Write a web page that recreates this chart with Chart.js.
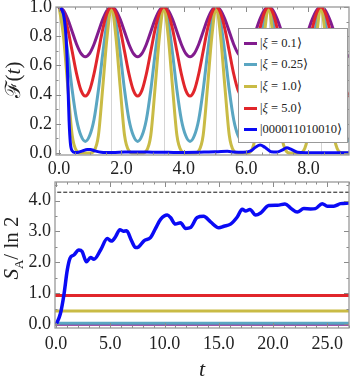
<!DOCTYPE html>
<html>
<head>
<meta charset="utf-8">
<script src="https://cdn.jsdelivr.net/npm/chart.js@4.4.1/dist/chart.umd.min.js"></script>
<style>
  body { margin: 0; background: #fff; width: 353px; height: 377px; position: relative; overflow: hidden; font-family: 'Liberation Serif', serif; color: #222; }
  canvas { position: absolute; left: 0; }
  #top { top: 0; }
  #bot { top: 180px; }
  .ytitle { position: absolute; transform: translate(-50%, -50%) rotate(-90deg); white-space: nowrap; font-size: 21px; }
  .xtitle { position: absolute; transform: translate(-50%, -50%); font-size: 22px; font-style: italic; }
  #legend { position: absolute; left: 238px; top: 28px; width: 110px; height: 115px; border: 1px solid #999; background: #fff; box-sizing: border-box; }
  .row { position: absolute; left: 0; height: 20px; display: flex; align-items: center; font-size: 12.5px; white-space: nowrap; }
  .sw { display: inline-block; width: 13px; height: 3px; margin-left: 5px; margin-right: 3px; }
</style>
</head>
<body>
<canvas id="top" width="353" height="180"></canvas>
<canvas id="bot" width="353" height="197"></canvas>
<div class="ytitle" style="left:12px;top:80px">ℱ(<i>t</i>)</div>
<div class="ytitle" style="left:13px;top:248px"><i>S</i><sub style="font-size:13px">A</sub>/ ln 2</div>
<div class="xtitle" style="left:202px;top:369px">t</div>
<div id="legend"></div>
<script>
// top panel: fidelity, sampled every 0.14
const tTop = [0, 0.14, 0.28, 0.42, 0.56, 0.7, 0.84, 0.98, 1.12, 1.26, 1.4, 1.54,
  1.68, 1.82, 1.96, 2.1, 2.24, 2.38, 2.52, 2.66, 2.8, 2.94, 3.08, 3.22,
  3.36, 3.5, 3.64, 3.78, 3.92, 4.06, 4.2, 4.34, 4.48, 4.62, 4.76, 4.9,
  5.04, 5.18, 5.32, 5.46, 5.6, 5.74, 5.88, 6.02, 6.16, 6.3, 6.44, 6.58,
  6.72, 6.86, 7.0, 7.14, 7.28, 7.42, 7.56, 7.7, 7.84, 7.98, 8.12, 8.26,
  8.4, 8.54, 8.68, 8.82, 8.96, 9.1, 9.24, 9.38];

const fidXi01 = [1, 0.977, 0.915, 0.83, 0.745, 0.683, 0.66, 0.683, 0.745, 0.83, 0.915, 0.977,
  1, 0.977, 0.915, 0.83, 0.745, 0.683, 0.66, 0.683, 0.745, 0.83, 0.915, 0.977,
  1, 0.977, 0.915, 0.83, 0.745, 0.683, 0.66, 0.683, 0.745, 0.83, 0.915, 0.977,
  1, 0.977, 0.915, 0.83, 0.745, 0.683, 0.66, 0.683, 0.745, 0.83, 0.915, 0.977,
  1, 0.977, 0.915, 0.83, 0.745, 0.683, 0.66, 0.683, 0.745, 0.83, 0.915, 0.977,
  1, 0.977, 0.915, 0.83, 0.745, 0.683, 0.66, 0.683];

const fidXi025 = [1, 0.9, 0.68, 0.43, 0.23, 0.12, 0.08, 0.12, 0.23, 0.43, 0.68, 0.9,
  1, 0.9, 0.68, 0.43, 0.23, 0.12, 0.08, 0.12, 0.23, 0.43, 0.68, 0.9,
  1, 0.9, 0.68, 0.43, 0.23, 0.12, 0.08, 0.12, 0.23, 0.43, 0.68, 0.9,
  1, 0.9, 0.68, 0.43, 0.23, 0.12, 0.08, 0.12, 0.23, 0.43, 0.68, 0.9,
  1, 0.9, 0.68, 0.43, 0.23, 0.12, 0.08, 0.12, 0.23, 0.43, 0.68, 0.9,
  1, 0.9, 0.68, 0.43, 0.23, 0.12, 0.08, 0.12];

const fidXi1 = [1, 0.8, 0.45, 0.12, 0.015, 0, 0, 0, 0.015, 0.12, 0.45, 0.8,
  1, 0.8, 0.45, 0.12, 0.015, 0, 0, 0, 0.015, 0.12, 0.45, 0.8,
  1, 0.8, 0.45, 0.12, 0.015, 0, 0, 0, 0.015, 0.12, 0.45, 0.8,
  1, 0.8, 0.45, 0.12, 0.015, 0, 0, 0, 0.015, 0.12, 0.45, 0.8,
  1, 0.8, 0.45, 0.12, 0.015, 0, 0, 0, 0.015, 0.12, 0.45, 0.8,
  1, 0.8, 0.45, 0.12, 0.015, 0, 0, 0];

const fidXi5 = [1, 0.959, 0.848, 0.695, 0.543, 0.431, 0.39, 0.431, 0.543, 0.695, 0.848, 0.959,
  1, 0.959, 0.848, 0.695, 0.543, 0.431, 0.39, 0.431, 0.543, 0.695, 0.848, 0.959,
  1, 0.959, 0.848, 0.695, 0.543, 0.431, 0.39, 0.431, 0.543, 0.695, 0.848, 0.959,
  1, 0.959, 0.848, 0.695, 0.543, 0.431, 0.39, 0.431, 0.543, 0.695, 0.848, 0.959,
  1, 0.959, 0.848, 0.695, 0.543, 0.431, 0.39, 0.431, 0.543, 0.695, 0.848, 0.959,
  1, 0.959, 0.848, 0.695, 0.543, 0.431, 0.39, 0.431];

const tBlueTop = [0, 0.08, 0.16, 0.22, 0.26, 0.29, 0.32, 0.36, 0.42, 0.5,
  0.62, 0.75, 0.9, 1.0, 1.15, 1.35, 1.7, 2.1, 2.6, 3.0,
  3.5, 4.0, 4.4, 4.8, 5.1, 5.4, 5.6, 5.9, 6.15, 6.3,
  6.45, 6.6, 6.8, 7.0, 7.15, 7.3, 7.45, 7.65, 7.9, 8.3,
  8.8, 9.4];
const fidBlue = [1, 0.985, 0.93, 0.8, 0.62, 0.42, 0.22, 0.07, 0.015, 0.004,
  0.006, 0.015, 0.025, 0.025, 0.015, 0.006, 0.004, 0.007, 0.008, 0.006,
  0.005, 0.004, 0.005, 0.008, 0.01, 0.012, 0.008, 0.006, 0.015, 0.04,
  0.055, 0.04, 0.01, 0.008, 0.02, 0.036, 0.025, 0.006, 0.003, 0.003,
  0.003, 0.003];

// revival times (light vertical lines)
const revivals = [0, 1.68, 3.36, 5.04, 6.72, 8.4];

// bottom panel: entanglement entropy
const tEnt = [0, 0.05, 0.4, 0.72, 1.03, 1.28, 1.64, 2.1, 2.4, 2.8,
  3.18, 3.49, 4.1, 4.72, 5.1, 5.48, 5.88, 6.19, 6.5, 6.93,
  7.33, 7.6, 8.1, 8.7, 9.17, 9.63, 10.25, 10.55, 11.0, 11.47,
  11.94, 12.4, 13.0, 13.6, 14.24, 15.0, 15.47, 16.08, 16.7, 17.16,
  17.47, 17.87, 18.39, 18.85, 19.6, 20.4, 21.1, 21.68, 22.23, 22.84,
  23.46, 23.9, 24.53, 25.0, 25.6, 26.22, 27.0];
const entBlue = [0, 0.03, 0.35, 0.95, 1.75, 2.13, 2.24, 2.4, 2.35, 2.02,
  2.16, 2.1, 2.4, 2.77, 2.69, 2.83, 3.06, 3.01, 3.02, 2.72,
  2.48, 2.5, 2.7, 2.8, 3.1, 3.39, 3.53, 3.45, 3.24, 3.28,
  3.1, 3.13, 3.45, 3.49, 3.31, 3.12, 3.17, 3.24, 3.47, 3.72,
  3.66, 3.71, 3.53, 3.6, 3.84, 3.85, 3.89, 3.74, 3.63, 3.74,
  3.73, 3.74, 3.9, 3.82, 3.82, 3.9, 3.92];
const entXi = [0.0, 0.03, 0.43, 0.93]; // xi = 0.1, 0.25, 1.0, 5.0
const pageValue = 4.27;

const xiLabels = ['0.1', '0.25', '1.0', '5.0'];
const productLabel = '000011010010';
const xiColors = ['#821c8e', '#5aa6c2', '#c9bb45', '#e1262b'];
const blueColor = '#0a0af5';

const xTicksTop = [0, 2, 4, 6, 8];
const yTicksTop = [0, 0.2, 0.4, 0.6, 0.8, 1.0];
const xTicksBot = [0, 5, 10, 15, 20, 25];
const yTicksBot = [0, 1, 2, 3, 4];

const tickFont = { family: 'Liberation Serif', size: 18 };

function pts(xs, ys) {
  return xs.map((x, i) => ({ x, y: ys[i] }));
}

// frame with inward ticks on all four sides, like a Mathematica frame
const frameTicks = {
  id: 'frameTicks',
  beforeDatasetsDraw(chart, args, opts) {
    if (!opts.gridX) return;
    const { ctx, chartArea: a, scales: { x } } = chart;
    ctx.save();
    ctx.strokeStyle = '#d4d4d4';
    ctx.lineWidth = 1;
    opts.gridX.forEach((v) => {
      const px = Math.round(x.getPixelForValue(v)) + 0.5;
      ctx.beginPath();
      ctx.moveTo(px, a.top);
      ctx.lineTo(px, a.bottom);
      ctx.stroke();
    });
    ctx.restore();
  },
  afterDatasetsDraw(chart, args, opts) {
    const { ctx, chartArea: a, scales: { x, y } } = chart;
    ctx.save();
    ctx.strokeStyle = '#8a8a8a';
    ctx.lineWidth = 1;
    const marks = (scale, step, sub, horizontal) => {
      const minor = step / sub;
      let v = Math.ceil(scale.min / minor) * minor;
      for (; v <= scale.max + 1e-9; v += minor) {
        const isMajor = Math.abs(v / step - Math.round(v / step)) < 1e-6;
        const len = isMajor ? 5 : 2.5;
        const p = Math.round(scale.getPixelForValue(v)) + 0.5;
        ctx.beginPath();
        if (horizontal) {
          ctx.moveTo(p, a.bottom); ctx.lineTo(p, a.bottom - len);
          ctx.moveTo(p, a.top); ctx.lineTo(p, a.top + len);
        } else {
          ctx.moveTo(a.left, p); ctx.lineTo(a.left + len, p);
          ctx.moveTo(a.right, p); ctx.lineTo(a.right - len, p);
        }
        ctx.stroke();
      }
    };
    marks(x, opts.xStep, opts.xSub, true);
    marks(y, opts.yStep, opts.ySub, false);
    ctx.lineWidth = 1.3;
    ctx.strokeStyle = '#999';
    ctx.strokeRect(a.left, a.top, a.right - a.left, a.bottom - a.top);
    ctx.restore();
  },
};

function axis(min, max, tickVals, pad, afterFit) {
  return {
    type: 'linear',
    min,
    max,
    afterBuildTicks: (s) => { s.ticks = tickVals.map((v) => ({ value: v })); },
    afterFit,
    ticks: {
      font: tickFont,
      color: '#222',
      padding: pad,
      autoSkip: false,
      maxRotation: 0,
      callback: (v) => Number(v).toFixed(1),
    },
    grid: { display: false, drawTicks: false },
    border: { display: false },
  };
}

function fixX(h) {
  return (s) => { s.height = h; s.paddingLeft = 0; s.paddingRight = 0; };
}
function fixY(w) {
  return (s) => { s.width = w; s.paddingTop = 0; s.paddingBottom = 0; };
}

const lineBase = {
  pointRadius: 0,
  borderWidth: 3,
  fill: false,
  cubicInterpolationMode: 'monotone',
};

const topData = [fidXi01, fidXi025, fidXi1, fidXi5];

new Chart(document.getElementById('top'), {
  type: 'line',
  data: {
    datasets: [
      ...topData.map((arr, i) => ({
        ...lineBase,
        data: pts(tTop, arr),
        borderColor: xiColors[i],
        order: 4 - i,
      })),
      { ...lineBase, data: pts(tBlueTop, fidBlue), borderColor: blueColor, order: 0 },
    ],
  },
  options: {
    responsive: false,
    animation: false,
    layout: { padding: { top: 7, right: 4, left: 0, bottom: 0 } },
    plugins: {
      legend: { display: false },
      tooltip: { enabled: false },
      frameTicks: { gridX: revivals, xStep: 2, xSub: 4, yStep: 0.2, ySub: 2 },
    },
    scales: {
      x: axis(-0.1, 9.3, xTicksTop, 3, fixX(25)),
      y: axis(-0.013, 1.0, yTicksTop, 4, fixY(56)),
    },
  },
  plugins: [frameTicks],
});

const flat = (v) => pts([-1, 28], [v, v]);

new Chart(document.getElementById('bot'), {
  type: 'line',
  data: {
    datasets: [
      ...entXi.map((v, i) => ({
        ...lineBase,
        data: flat(v),
        borderColor: xiColors[i],
        order: 5 - i,
      })),
      { ...lineBase, data: flat(pageValue), borderColor: '#111', borderWidth: 1, borderDash: [4, 2], order: 1 },
      { ...lineBase, data: pts(tEnt, entBlue), borderColor: blueColor, borderWidth: 3.5, order: 0 },
    ],
  },
  options: {
    responsive: false,
    animation: false,
    layout: { padding: { top: 2, right: 4, left: 0, bottom: 0 } },
    plugins: {
      legend: { display: false },
      tooltip: { enabled: false },
      frameTicks: { xStep: 5, xSub: 5, yStep: 1, ySub: 2 },
    },
    scales: {
      x: axis(-0.1, 27.0, xTicksBot, 5, fixX(49)),
      y: axis(-0.12, 4.6, yTicksBot, 4, fixY(55)),
    },
  },
  plugins: [frameTicks],
});

// legend inside the top panel
const legend = document.getElementById('legend');
const rowsTop = [4, 25, 47, 69, 90];
const legendItems = xiLabels.map((l, i) => ({ html: `|<i>ξ</i> = ${l}⟩`, color: xiColors[i] }));
legendItems.push({ html: `|${productLabel}⟩`, color: blueColor });
legendItems.forEach((item, i) => {
  const row = document.createElement('div');
  row.className = 'row';
  row.style.top = rowsTop[i] + 'px';
  row.innerHTML = `<span class="sw" style="background:${item.color}"></span><span>${item.html}</span>`;
  legend.appendChild(row);
});
</script>
</body>
</html>
